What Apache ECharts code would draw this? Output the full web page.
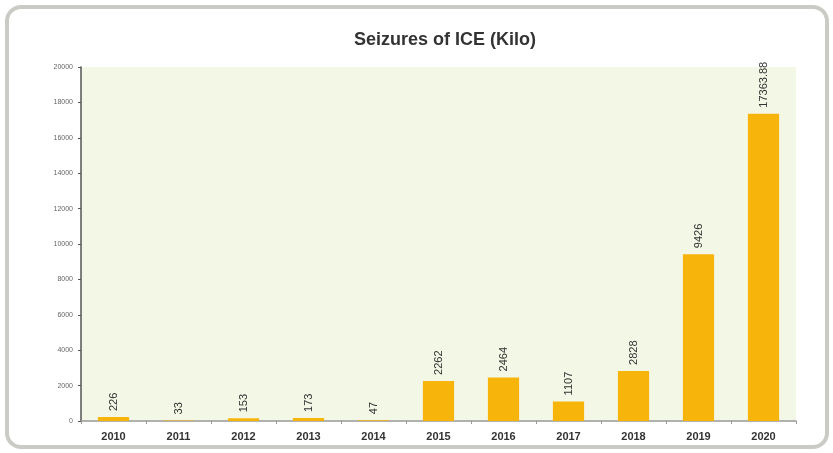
<!DOCTYPE html>
<html>
<head>
<meta charset="utf-8">
<script src="https://cdn.jsdelivr.net/npm/echarts@6/dist/echarts.min.js"></script>
<style>
html,body{margin:0;padding:0;background:#fff;}
#frame{position:absolute;left:5px;top:5px;width:816px;height:436px;border:4px solid #cacbc5;border-radius:16px;}
#chart{position:absolute;left:0;top:0;width:833px;height:453px;}
</style>
</head>
<body>
<div id="frame"></div>
<div id="chart"></div>
<script>
const categories = ['2010','2011','2012','2013','2014','2015','2016','2017','2018','2019','2020'];
const seizures = [226, 33, 153, 173, 47, 2262, 2464, 1107, 2828, 9426, 17363.88];
const yTicks = [0, 2000, 4000, 6000, 8000, 10000, 12000, 14000, 16000, 18000, 20000];

const chart = echarts.init(document.getElementById('chart'));
chart.setOption({
  animation: false,
  title: {
    text: 'Seizures of ICE (Kilo)',
    left: 440, top: 26, textAlign: 'center',
    textStyle: {fontFamily: 'Liberation Sans, Arial', fontSize: 18, fontWeight: 'bold', color: '#333'}
  },
  grid: {left: 81, right: 37, top: 67, bottom: 32, show: true, backgroundColor: '#f3f7e5', borderWidth: 0},
  xAxis: {
    type: 'category', data: categories,
    axisLine: {lineStyle: {color: '#999', width: 1.5}},
    axisTick: {show: true, length: 3, lineStyle: {color: '#999'}},
    axisLabel: {fontFamily: 'Liberation Sans, Arial', fontSize: 11, fontWeight: 'bold', color: '#333', margin: 10}
  },
  yAxis: {
    type: 'value', min: yTicks[0], max: yTicks[yTicks.length-1], interval: 2000,
    axisLine: {show: true, lineStyle: {color: '#555', width: 1.5}},
    axisTick: {show: true, length: 3, lineStyle: {color: '#555'}},
    splitLine: {show: false},
    axisLabel: {fontFamily: 'Liberation Sans, Arial', fontSize: 7, color: '#666', margin: 8, formatter: v => String(v)}
  },
  series: [{
    type: 'bar', data: seizures, barWidth: '48%',
    itemStyle: {color: '#f7b50c'},
    label: {
      show: true, position: 'top', rotate: 90, align: 'left', verticalAlign: 'middle', distance: 6,
      fontFamily: 'Liberation Sans, Arial', fontSize: 11, color: '#333'
    }
  }]
});
</script>
</body>
</html>
